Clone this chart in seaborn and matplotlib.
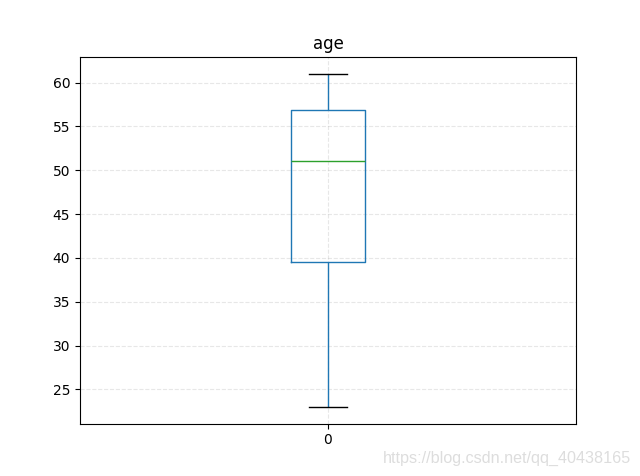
import numpy as np
import pandas as pd
import seaborn as sns
from matplotlib import pyplot as plt

# five-number summary (min, Q1, median, Q3, max)
age = [23.0, 39.5, 51.0, 56.85, 61.0]
col_name = 0
title = 'age'

df = pd.DataFrame({col_name: age})

fig, ax = plt.subplots(figsize=(6.4, 4.76), dpi=100)
sns.boxplot(data=df, ax=ax, fill=False, color='#1f77b4', width=0.15,
            linewidth=1.0,
            medianprops=dict(color='#2ca02c'),
            capprops=dict(color='black'))
ax.set_title(title)
ax.grid(True, linestyle='--', alpha=0.3)
ax.set_axisbelow(True)

fig.text(0.986, 0.02, 'https://blog.csdn.net/qq_40438165', ha='right', va='bottom',
         color='#dddddd', fontsize=11.6, family=['Liberation Sans', 'DejaVu Sans'])

plt.savefig('out.png', dpi=100)
